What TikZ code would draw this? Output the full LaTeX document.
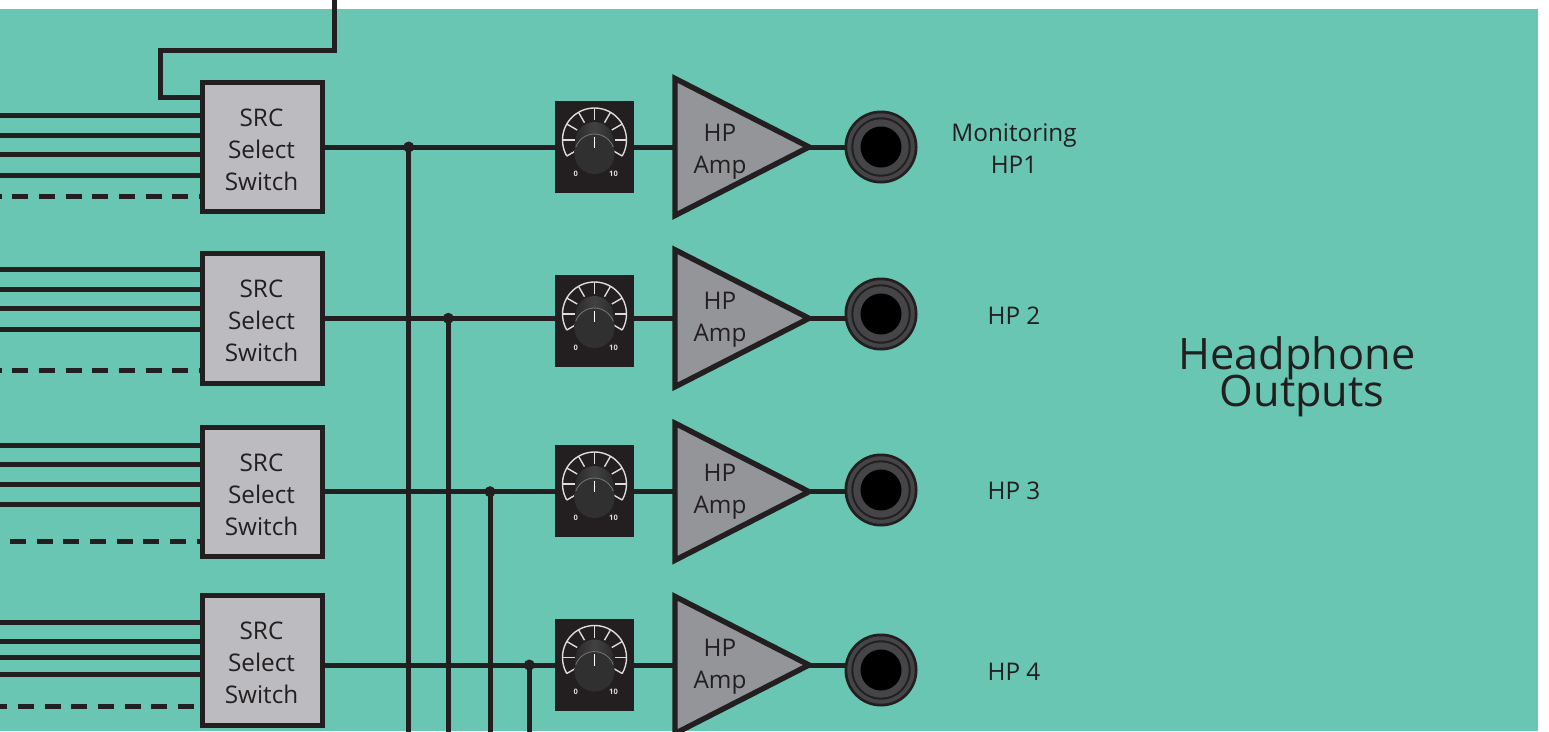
\documentclass[tikz,border=0pt]{standalone}
\usepackage{fontspec}
\setmainfont{Open Sans}
\definecolor{bgteal}{HTML}{68C6B2}
\definecolor{ink}{HTML}{231F20}
\definecolor{boxgrey}{HTML}{BBBBC0}
\definecolor{ampgrey}{HTML}{939598}
\definecolor{ringgrey}{HTML}{454547}
\definecolor{tickgrey}{HTML}{DCDCDA}
\definecolor{conegrey}{HTML}{424243}
\definecolor{coneedge}{HTML}{2A2A2B}
\definecolor{discgrey}{HTML}{303031}
\definecolor{discedge}{HTML}{757575}
\newcommand{\labelfont}{\fontsize{24.3}{32}\selectfont}
\begin{document}
\begin{tikzpicture}[x=1pt,y=-1pt,
  wire/.style={draw=ink,line width=5pt},
  dashwire/.style={draw=ink,line width=5pt,dash pattern=on 16pt off 10.67pt},
  srcbox/.style={draw=ink,line width=5pt,fill=boxgrey,minimum width=120.5pt,minimum height=129.5pt,inner sep=0pt,outer sep=0pt},
  amp/.style={draw=ink,line width=5.4pt,fill=ampgrey,miter limit=10},
  txt/.style={align=center,font=\labelfont,text=ink,inner sep=0pt},
  bigtxt/.style={align=center,font=\fontsize{43.3}{43}\selectfont,text=ink,inner sep=0pt},
  knobbox/.style={fill=ink,draw=none,minimum width=79pt,minimum height=92pt,inner sep=0pt,outer sep=0pt},
  dotnode/.style={circle,fill=ink,inner sep=0pt,minimum size=11pt},
  jackouter/.style={circle,fill=ink,draw=none,minimum size=73pt,inner sep=0pt,outer sep=0pt},
  knoblabel/.style={font=\bfseries\fontsize{7.5}{7.5}\selectfont,text=tickgrey,inner sep=0pt}
]
\useasboundingbox (0,0) rectangle (1549,731);
\fill[white] (0,0) rectangle (1549,731);
\fill[bgteal] (0,9) rectangle (1538,731);
\clip (0,0) rectangle (1549,731);

\coordinate (floor) at (0,735);
\coordinate (sky) at (334.3,-4);
\coordinate (loopa) at (334.3,50.7);
\coordinate (loopb) at (160,50.7);
\coordinate (loopc) at (160,97.7);

\foreach \n/\by/\ty/\wy/\ky/\jy/\ay/\dx/\ia/\ib/\ic/\id/\dy/\ds in {
 1/147/150/147/147/147/148/408.7/115.7/135/154.3/175/196/-14.4,
 2/318.7/321/318.3/321/314/316/448.3/269.7/289.3/308.7/329.3/370.7/-14.4,
 3/491.8/495/491.7/491/490/488/490/445.3/464.7/484/504.7/541/10,
 4/660.5/663/665/664.5/670/663/529.3/622.7/641/657.7/674.3/706.3/-8.7}{
  \node[srcbox] (src\n) at (262.5,\by) {};
  \node[knobbox] (knob\n) at (594.5,\ky) {};
  \coordinate (ampw\n) at (675,\wy);
  \coordinate (ampt\n) at (675,\wy-68.5);
  \coordinate (ampb\n) at (675,\wy+68.5);
  \coordinate (ampa\n) at (809,\wy);
  \node[jackouter] (jack\n) at (881,\jy) {};
  \coordinate (dotc\n) at (\dx,\wy);
  \foreach \iy in {\ia,\ib,\ic,\id}{
    \coordinate (in) at (-3,\iy);
    \draw[wire] (in) -- (in -| src\n.west);
  }
  \coordinate (dashin) at (\ds,\dy);
  \draw[dashwire] (dashin) -- (dashin -| src\n.west);
  \draw[wire] (dotc\n) -- (dotc\n |- floor);
  \draw[wire] (src\n.east |- dotc\n) -- (knob\n.west |- dotc\n);
  \draw[wire] (knob\n.east |- dotc\n) -- (ampw\n);
  \draw[wire] (ampa\n) -- (jack\n.west |- dotc\n);
  \node[dotnode] (dot\n) at (dotc\n) {};
  \node[srcbox] at (src\n) {};
  \node[txt] (srctext\n) at (261.5,\ty) {SRC\\Select\\Switch};
  \draw[amp] (ampt\n) -- (ampa\n) -- (ampb\n) -- cycle;
  \node[txt] (amptext\n) at (720,\ay+3.5) {HP\\Amp};
  \node[knobbox] at (knob\n) {};
  \begin{scope}[shift={(knob\n.center)}]
    \coordinate (dial) at (0,-7);
    \draw[tickgrey,line width=1.4pt] ([shift={(150:32)}]dial) arc[start angle=210,end angle=-30,radius=32pt];
    \foreach \a in {150,180,...,390}{
      \draw[tickgrey,line width=1.4pt] ([shift={(\a:20)}]dial) -- ([shift={(\a:32)}]dial);
    }
    \shade[left color=coneedge,right color=coneedge,middle color=conegrey]
      (-19,-6) arc[start angle=180,end angle=0,radius=19pt] -- (20,7) -- (-20,7) -- cycle;
    \fill[discgrey] (0,7) circle[radius=20pt];
    \draw[discedge,line width=.8pt] (-18.8,0.2) arc[start angle=160,end angle=20,radius=20pt];
    \draw[white,line width=1.7pt] (0,-10.3) -- (0,1.3);
    \node[knoblabel] (zero\n) at (-18.7,27) {0};
    \node[knoblabel] (ten\n) at (19,27) {10};
  \end{scope}
  \fill[ringgrey] (jack\n) circle[radius=33.7pt];
  \fill[ink] (jack\n) circle[radius=29.7pt];
  \fill[ringgrey] (jack\n) circle[radius=27.7pt];
  \fill[black] (jack\n) circle[radius=20.5pt];
}
\draw[wire,line join=miter] (sky) -- (loopa) -- (loopb) -- (loopc) -- (loopc -| src1.west);
\node[txt] (l1) at (1014,149) {Monitoring\\HP1};
\node[txt] (l2) at (1014,316) {HP 2};
\node[txt] (l3) at (1014,491) {HP 3};
\node[txt] (l4) at (1014,672) {HP 4};
\node[bigtxt] (h1) at (1297,358) {Headphone};
\node[bigtxt] (h2) at (1302,396) {Outputs};
\end{tikzpicture}
\end{document}
